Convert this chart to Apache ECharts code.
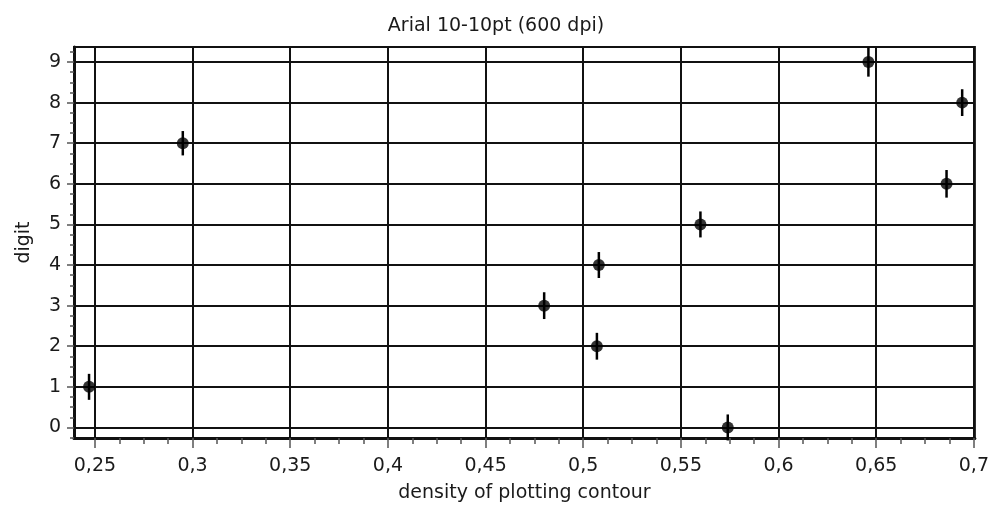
<!DOCTYPE html>
<html>
<head>
<meta charset="utf-8">
<script src="https://cdn.jsdelivr.net/npm/echarts@6/dist/echarts.min.js"></script>
<style>
  html, body { margin: 0; padding: 0; background: #fff; }
  #chart { width: 992px; height: 508px; }
</style>
</head>
<body>
<div id="chart"></div>
<script>
// values
let digits = [0, 1, 2, 3, 4, 5, 6, 7, 8, 9];
let density = [0.574, 0.247, 0.507, 0.480, 0.508, 0.560, 0.686, 0.295, 0.694, 0.646];
let errors = [0.32, 0.32, 0.33, 0.33, 0.32, 0.32, 0.34, 0.30, 0.33, 0.36];

let xTicks = [0.25, 0.3, 0.35, 0.4, 0.45, 0.5, 0.55, 0.6, 0.65, 0.7];
let yTicks = [0, 1, 2, 3, 4, 5, 6, 7, 8, 9];

let xMin = 0.2393, xMax = 0.7005;
let yMin = -0.26, yMax = 9.37;

// minor ticks: 4 steps between major ticks
function minorOf(ticks, lo, hi) {
  let step = (ticks[1] - ticks[0]) / 4;
  let out = [];
  for (let i = -1; i < ticks.length; i++) {
    let base = i < 0 ? ticks[0] - (ticks[1] - ticks[0]) : ticks[i];
    for (let k = 1; k < 4; k++) {
      let v = +(base + k * step).toFixed(5);
      if (v > lo && v < hi) out.push(v);
    }
  }
  return out;
}

let font = "'DejaVu Sans', sans-serif";
let ink = '#111';

let myChart = echarts.init(document.getElementById('chart'));

let option = {
  backgroundColor: '#fff',
  animation: false,
  title: {
    text: 'Arial 10-10pt (600 dpi)',
    left: 'center',
    top: 12,
    textStyle: { fontFamily: font, fontSize: 19, fontWeight: 'normal', color: '#1a1a1a' }
  },
  grid: {
    left: 74, top: 47, width: 901, height: 391,
    show: true, borderColor: ink, borderWidth: 2, backgroundColor: '#fff'
  },
  xAxis: [
    {
      type: 'value', min: xMin, max: xMax,
      name: 'density of plotting contour',
      nameLocation: 'middle', nameGap: 46,
      nameTextStyle: { fontFamily: font, fontSize: 19, color: '#1a1a1a' },
      axisLine: { show: true, onZero: false, lineStyle: { color: ink, width: 3 } },
      axisTick: { show: true, customValues: xTicks, length: 10, lineStyle: { color: '#555', width: 1.5 } },
      axisLabel: {
        customValues: xTicks, margin: 19,
        fontFamily: font, fontSize: 19, color: '#1a1a1a',
        formatter: v => String(v).replace('.', ',')
      },
      splitLine: { show: true, lineStyle: { color: ink, width: 2 } }
    },
    {
      type: 'value', min: xMin, max: xMax, position: 'bottom',
      axisLine: { show: false, onZero: false },
      axisTick: { show: true, customValues: minorOf(xTicks, xMin, xMax), length: 6, lineStyle: { color: '#555', width: 1.5 } },
      axisLabel: { show: false },
      splitLine: { show: false }
    }
  ],
  yAxis: [
    {
      type: 'value', min: yMin, max: yMax,
      name: 'digit',
      nameLocation: 'middle', nameGap: 40,
      nameTextStyle: { fontFamily: font, fontSize: 19, color: '#1a1a1a' },
      axisLine: { show: true, onZero: false, lineStyle: { color: ink, width: 3 } },
      axisTick: { show: true, customValues: yTicks, length: 7, lineStyle: { color: '#555', width: 1.5 } },
      axisLabel: { customValues: yTicks, margin: 13, fontFamily: font, fontSize: 19, color: '#1a1a1a' },
      splitLine: { show: true, lineStyle: { color: ink, width: 2 } }
    },
    {
      type: 'value', min: yMin, max: yMax, position: 'left',
      axisLine: { show: false, onZero: false },
      axisTick: { show: true, customValues: minorOf(yTicks, yMin, yMax), length: 4, lineStyle: { color: '#555', width: 1.5 } },
      axisLabel: { show: false },
      splitLine: { show: false }
    }
  ],
  series: [
    {
      type: 'custom',
      xAxisIndex: 0, yAxisIndex: 0,
      data: density.map((x, i) => [x, digits[i], errors[i]]),
      renderItem: function (params, api) {
        let x = api.value(0), y = api.value(1), e = api.value(2);
        let p1 = api.coord([x, y + e]);
        let p2 = api.coord([x, y - e]);
        return {
          type: 'line',
          shape: { x1: p1[0], y1: p1[1], x2: p2[0], y2: p2[1] },
          style: { stroke: '#000', lineWidth: 2.5 }
        };
      },
      z: 3
    },
    {
      type: 'scatter',
      xAxisIndex: 0, yAxisIndex: 0,
      data: density.map((x, i) => [x, digits[i]]),
      symbol: 'circle',
      symbolSize: 12,
      itemStyle: { color: '#000' },
      z: 4
    }
  ]
};

myChart.setOption(option);
</script>
</body>
</html>
